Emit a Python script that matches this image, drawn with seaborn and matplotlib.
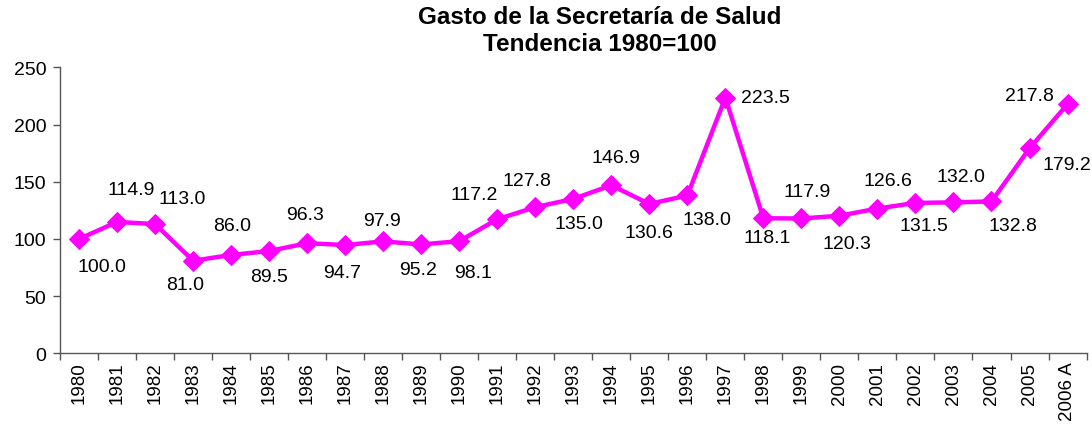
import matplotlib
matplotlib.use("Agg")
import matplotlib.pyplot as plt
import seaborn as sns
import pandas as pd
import numpy as np
from matplotlib.ticker import FixedLocator

years = ["1980", "1981", "1982", "1983", "1984", "1985", "1986", "1987", "1988",
         "1989", "1990", "1991", "1992", "1993", "1994", "1995", "1996", "1997",
         "1998", "1999", "2000", "2001", "2002", "2003", "2004", "2005", "2006 A"]
values = [100.0, 114.9, 113.0, 81.0, 86.0, 89.5, 96.3, 94.7, 97.9, 95.2, 98.1,
          117.2, 127.8, 135.0, 146.9, 130.6, 138.0, 223.5, 118.1, 117.9, 120.3,
          126.6, 131.5, 132.0, 132.8, 179.2, 217.8]
title_lines = ["Gasto de la Secretaría de Salud", "Tendencia 1980=100"]

# label offsets in pixels (dx, dy) - style only
label_offsets = [(23, -28), (14, 32), (27, 26), (-8, -24), (1, 29), (0, -26),
                 (-2, 29), (-3, -27), (-1, 21), (-3, -25), (14, -31), (-23, 25),
                 (-8, 27), (6, -25), (5, 28), (0, -29), (20, -24), (40, 0),
                 (4, -19), (6, 27), (8, -28), (10, 28), (8, -23), (7, 26),
                 (21, -24), (37, -16), (-38, 9)]

sns.set_theme(style="white")
plt.rcParams['font.family'] = ['Liberation Sans', 'DejaVu Sans']

df = pd.DataFrame({"year": years, "value": values})

fig = plt.figure(figsize=(10.92, 4.27), dpi=100)
ax = fig.add_axes([0.055, 0.170, 0.940, 0.670])

sns.lineplot(data=df, x="year", y="value", ax=ax, color="#FF00FF",
             linewidth=3.2, marker="D", markersize=10, markeredgecolor="#FF00FF",
             sort=False)

ax.set_xlim(-0.5, len(years) - 0.5)
ax.set_ylim(0, 250)
ax.set_yticks([0, 50, 100, 150, 200, 250])
ax.set_xticks(range(len(years)))
ax.set_xticklabels(years, rotation=90, fontsize=13.5, color="black")
ax.xaxis.set_minor_locator(FixedLocator(np.arange(-0.5, len(years), 1.0)))
ax.tick_params(axis="x", which="major", length=0, pad=6, labelcolor="black")
ax.tick_params(axis="x", which="minor", length=5, width=1, color="#555555", direction="out", bottom=True)
ax.tick_params(axis="y", length=5, width=1, color="#555555", direction="out", left=True,
               labelsize=14, labelcolor="black", pad=5)
ax.set_xlabel("")
ax.set_ylabel("")
for s in ["top", "right"]:
    ax.spines[s].set_visible(False)
for s in ["left", "bottom"]:
    ax.spines[s].set_color("#555555")
    ax.spines[s].set_linewidth(1)

for i, (v, off) in enumerate(zip(values, label_offsets)):
    ax.annotate(f"{v:.1f}", xy=(i, v), xytext=off, textcoords="offset pixels",
                ha="center", va="center", fontsize=14, color="black")

fig.text(0.549, 0.958, title_lines[0], ha="center", va="center",
         fontsize=17.5, fontweight="bold", color="black")
fig.text(0.549, 0.895, title_lines[1], ha="center", va="center",
         fontsize=17.5, fontweight="bold", color="black")

fig.savefig("out.png", dpi=100)
